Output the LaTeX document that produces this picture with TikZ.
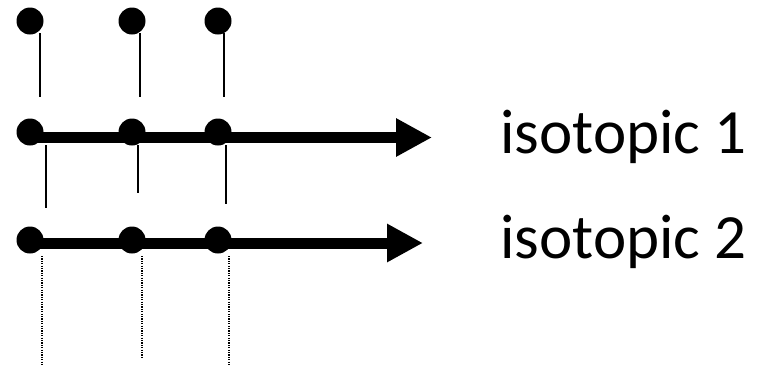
\documentclass[tikz,border=0pt]{standalone}
\usepackage{fontspec}
\setmainfont{Carlito}
\usetikzlibrary{arrows.meta}
\begin{document}
\begin{tikzpicture}[x=1pt,y=-1pt,
  dot/.style={circle,fill=black,draw=none,inner sep=0pt,minimum size=27pt},
  stem/.style={line width=2pt},
  dotline/.style={line width=1.5pt,dash pattern=on 1.2pt off 1.2pt},
  axis/.style={line width=11pt,-{Triangle[length=36pt,width=36pt]}},
  lab/.style={anchor=base west,inner sep=0pt,font=\fontsize{63}{63}\selectfont}]
\useasboundingbox (0,0) rectangle (758,370);
% shafts
\coordinate (s1) at (30,137.5);
\coordinate (e1) at (432,137.5);
\coordinate (s2) at (30,243);
\coordinate (e2) at (423,243);
\draw[axis] (s1) -- (e1);
\draw[axis] (s2) -- (e2);
% dots
\node[dot] (t1) at (30,21) {};
\node[dot] (t2) at (132,21) {};
\node[dot] (t3) at (218,21) {};
\node[dot] (a1) at (30,132) {};
\node[dot] (a2) at (132,132) {};
\node[dot] (a3) at (218,132) {};
\node[dot] (b1) at (30,240) {};
\node[dot] (b2) at (132,240) {};
\node[dot] (b3) at (218,240) {};
% top stems
\coordinate (p1) at (40,33);  \coordinate (q1) at (40,97);
\coordinate (p2) at (140,33); \coordinate (q2) at (140,97);
\coordinate (p3) at (224,33); \coordinate (q3) at (224,97);
\draw[stem] (p1) -- (q1);
\draw[stem] (p2) -- (q2);
\draw[stem] (p3) -- (q3);
% middle stems
\coordinate (m1) at (46,145);  \coordinate (n1) at (46,208);
\coordinate (m2) at (138,145); \coordinate (n2) at (138,193);
\coordinate (m3) at (226,145); \coordinate (n3) at (226,204);
\draw[stem] (m1) -- (n1);
\draw[stem] (m2) -- (n2);
\draw[stem] (m3) -- (n3);
% dotted stems
\coordinate (u1) at (42,256);  \coordinate (v1) at (42,365);
\coordinate (u2) at (142,256); \coordinate (v2) at (142,358);
\coordinate (u3) at (229,256); \coordinate (v3) at (229,365);
\draw[dotline] (u1) -- (v1);
\draw[dotline] (u2) -- (v2);
\draw[dotline] (u3) -- (v3);
% labels
\node[lab] (l1) at (500,153) {isotopic 1};
\node[lab] (l2) at (500,258) {isotopic 2};
\end{tikzpicture}
\end{document}
